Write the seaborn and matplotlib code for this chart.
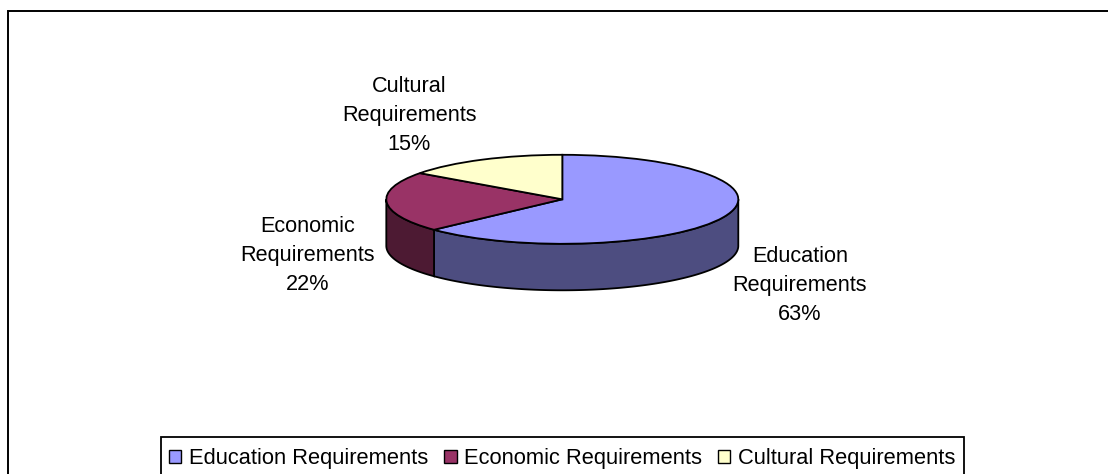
import numpy as np
import matplotlib
matplotlib.use("Agg")
import matplotlib.pyplot as plt
from matplotlib.patches import Patch, Rectangle
import seaborn as sns

categories = ["Education Requirements", "Economic Requirements", "Cultural Requirements"]
shares = [63, 22, 15]
top_colors = ["#9999FF", "#993366", "#FFFFCC"]
side_colors = ["#4D4D80", "#4D1A33", "#808066"]

W, H = 1108, 474
CX, CY, RX, RY, DEPTH = 562.3, 199.3, 176.0, 44.5, 46.5

sns.set_theme(style="white")
plt.rcParams["font.family"] = ["Liberation Sans", "DejaVu Sans"]

fig = plt.figure(figsize=(W / 100, H / 100), dpi=100, facecolor="white")
page = fig.add_axes([0, 0, 1, 1])
page.set_xlim(0, W)
page.set_ylim(H, 0)
page.axis("off")

# Chart frame: only the left and top edges fall on the page
page.plot([7.5, 7.5, W], [H, 10.5, 10.5], color="black", lw=1.4, solid_joinstyle="miter", zorder=1)

# Visible rim of the disc: each slice extruded downward over the front half
start = 0.0
for share, side in zip(shares, side_colors):
    stop = start + share / sum(shares) * 2 * np.pi
    lo, hi = max(start, np.pi / 2), min(stop, 3 * np.pi / 2)
    if lo < hi:
        t = np.linspace(lo, hi, 200)
        x = CX + RX * np.sin(t)
        y = CY - RY * np.cos(t)
        xs = np.r_[x, x[::-1]]
        ys = np.r_[y, (y + DEPTH)[::-1]]
        page.fill(xs, ys, facecolor=side, edgecolor="black", lw=1.3, zorder=2)
    start = stop

# Top face: a regular pie squashed into an ellipse by its own axes
pie_ax = fig.add_axes([(CX - RX) / W, 1 - (CY + RY) / H, 2 * RX / W, 2 * RY / H])
pie_ax.patch.set_alpha(0)
pie_ax.pie(shares, colors=top_colors, startangle=90, counterclock=False, radius=1.0,
           wedgeprops={"edgecolor": "black", "linewidth": 1.3})
pie_ax.set_aspect("auto")
pie_ax.set_xlim(-1, 1)
pie_ax.set_ylim(-1, 1)

# Slice labels
label_pos = [(800, 286), (308, 255), (409, 115.5)]
for name, share, (lx, ly) in zip(categories, shares, label_pos):
    first, second = name.split(" ")
    page.text(lx, ly, f"{first}\n{second}\n{share}%", ha="center", va="center",
              fontsize=15.6, color="black", linespacing=1.5, zorder=5)

# Legend box, its lower edge running off the page
page.add_patch(Rectangle((160.5, 437), 803.5, 60, facecolor="white", edgecolor="black",
                         lw=1.3, zorder=3, clip_on=True))
handles = [Patch(facecolor=c, edgecolor="black", linewidth=1.0) for c in top_colors]
leg = page.legend(handles, categories, loc="upper left",
                  bbox_to_anchor=(169 / W, 1 - 448 / H), bbox_transform=page.transAxes,
                  ncol=3, frameon=False, fontsize=15.75, labelcolor="black",
                  handlelength=0.57, handleheight=0.56, handletextpad=0.36, columnspacing=0.71,
                  borderpad=0, borderaxespad=0)
leg.set_zorder(4)

fig.savefig("out.png", dpi=100, facecolor="white")
